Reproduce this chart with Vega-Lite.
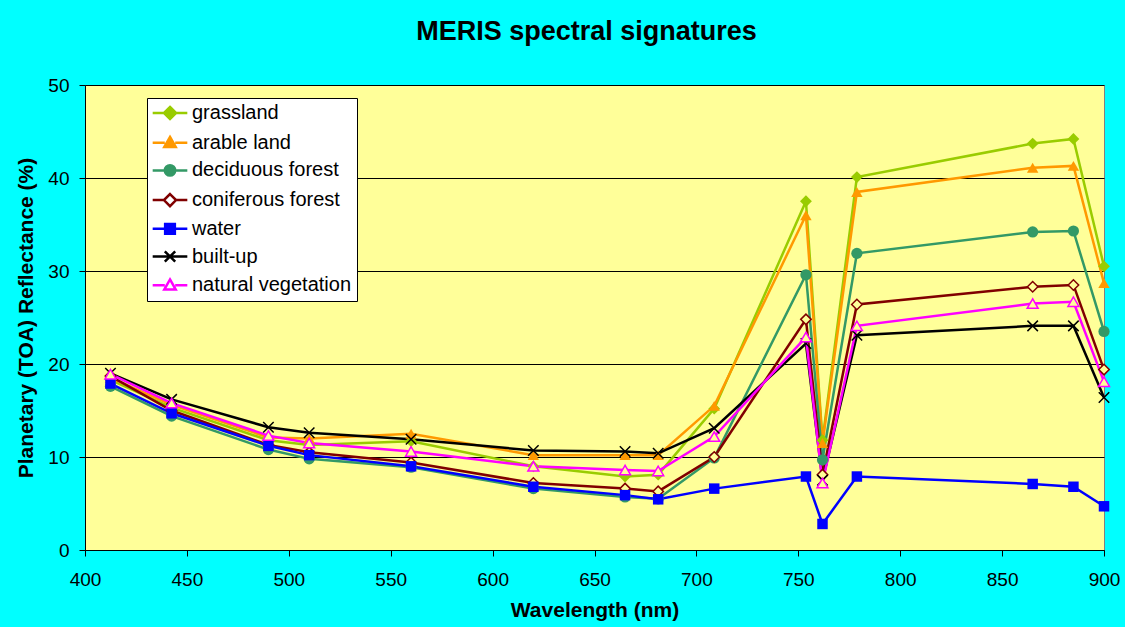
{
  "$schema": "https://vega.github.io/schema/vega-lite/v6.json",
  "width": 1019,
  "height": 465,
  "autosize": {"type": "none"},
  "padding": {"left": 85, "top": 85, "right": 21, "bottom": 77},
  "background": "#00FFFF",
  "title": {"text": "MERIS spectral signatures", "font": "Liberation Sans", "fontSize": 27, "fontWeight": "bold", "color": "#000000", "anchor": "middle", "frame": "group", "offset": 3, "baseline": "bottom", "dx": -8},
  "config": {
    "view": {"fill": "#FFFF99", "stroke": "#808080", "strokeWidth": 1},
    "axis": {
      "labelFont": "Liberation Sans", "labelFontSize": 19, "labelColor": "#000000",
      "titleFont": "Liberation Sans", "titleFontSize": 21, "titleFontWeight": "bold", "titleColor": "#000000",
      "domainColor": "#000000", "tickColor": "#000000", "tickSize": 6, "domainWidth": 1, "tickWidth": 1
    },
    "legend": {"orient": "none", "legendX": 62, "legendY": 13, "fillColor": "#FFFFFF", "strokeColor": "#000000", "padding": 5, "labelFont": "Liberation Sans", "labelFontSize": 20, "labelColor": "#000000", "labelLimit": 400, "labelOffset": 12, "symbolOffset": 8, "symbolSize": 300, "symbolStrokeWidth": 2.5, "symbolOpacity": 1, "rowPadding": 6.7}
  },
  "data": {"values": [
    {"s": "grassland", "w": 412.5, "r": 18.3}, {"s": "grassland", "w": 442.5, "r": 15.3}, {"s": "grassland", "w": 490, "r": 11.8}, {"s": "grassland", "w": 510, "r": 11.3}, {"s": "grassland", "w": 560, "r": 11.7}, {"s": "grassland", "w": 620, "r": 9.0}, {"s": "grassland", "w": 665, "r": 7.9}, {"s": "grassland", "w": 681.25, "r": 8.1}, {"s": "grassland", "w": 708.75, "r": 15.2}, {"s": "grassland", "w": 753.75, "r": 37.5}, {"s": "grassland", "w": 761.875, "r": 11.8}, {"s": "grassland", "w": 778.75, "r": 40.1}, {"s": "grassland", "w": 865, "r": 43.7}, {"s": "grassland", "w": 885, "r": 44.2}, {"s": "grassland", "w": 900, "r": 30.5},
    {"s": "arable land", "w": 412.5, "r": 18.5}, {"s": "arable land", "w": 442.5, "r": 15.6}, {"s": "arable land", "w": 490, "r": 12.1}, {"s": "arable land", "w": 510, "r": 12.0}, {"s": "arable land", "w": 560, "r": 12.5}, {"s": "arable land", "w": 620, "r": 10.2}, {"s": "arable land", "w": 665, "r": 10.2}, {"s": "arable land", "w": 681.25, "r": 10.2}, {"s": "arable land", "w": 708.75, "r": 15.5}, {"s": "arable land", "w": 753.75, "r": 36.0}, {"s": "arable land", "w": 761.875, "r": 11.5}, {"s": "arable land", "w": 778.75, "r": 38.5}, {"s": "arable land", "w": 865, "r": 41.1}, {"s": "arable land", "w": 885, "r": 41.3}, {"s": "arable land", "w": 900, "r": 28.7},
    {"s": "deciduous forest", "w": 412.5, "r": 17.6}, {"s": "deciduous forest", "w": 442.5, "r": 14.4}, {"s": "deciduous forest", "w": 490, "r": 10.8}, {"s": "deciduous forest", "w": 510, "r": 9.8}, {"s": "deciduous forest", "w": 560, "r": 8.9}, {"s": "deciduous forest", "w": 620, "r": 6.6}, {"s": "deciduous forest", "w": 665, "r": 5.7}, {"s": "deciduous forest", "w": 681.25, "r": 5.5}, {"s": "deciduous forest", "w": 708.75, "r": 9.9}, {"s": "deciduous forest", "w": 753.75, "r": 29.6}, {"s": "deciduous forest", "w": 761.875, "r": 9.7}, {"s": "deciduous forest", "w": 778.75, "r": 31.9}, {"s": "deciduous forest", "w": 865, "r": 34.2}, {"s": "deciduous forest", "w": 885, "r": 34.3}, {"s": "deciduous forest", "w": 900, "r": 23.5},
    {"s": "coniferous forest", "w": 412.5, "r": 18.7}, {"s": "coniferous forest", "w": 442.5, "r": 15.0}, {"s": "coniferous forest", "w": 490, "r": 11.3}, {"s": "coniferous forest", "w": 510, "r": 10.5}, {"s": "coniferous forest", "w": 560, "r": 9.4}, {"s": "coniferous forest", "w": 620, "r": 7.2}, {"s": "coniferous forest", "w": 665, "r": 6.6}, {"s": "coniferous forest", "w": 681.25, "r": 6.3}, {"s": "coniferous forest", "w": 708.75, "r": 10.0}, {"s": "coniferous forest", "w": 753.75, "r": 24.8}, {"s": "coniferous forest", "w": 761.875, "r": 8.1}, {"s": "coniferous forest", "w": 778.75, "r": 26.4}, {"s": "coniferous forest", "w": 865, "r": 28.3}, {"s": "coniferous forest", "w": 885, "r": 28.5}, {"s": "coniferous forest", "w": 900, "r": 19.4},
    {"s": "water", "w": 412.5, "r": 17.9}, {"s": "water", "w": 442.5, "r": 14.7}, {"s": "water", "w": 490, "r": 11.2}, {"s": "water", "w": 510, "r": 10.2}, {"s": "water", "w": 560, "r": 9.0}, {"s": "water", "w": 620, "r": 6.8}, {"s": "water", "w": 665, "r": 5.9}, {"s": "water", "w": 681.25, "r": 5.45}, {"s": "water", "w": 708.75, "r": 6.6}, {"s": "water", "w": 753.75, "r": 7.9}, {"s": "water", "w": 761.875, "r": 2.8}, {"s": "water", "w": 778.75, "r": 7.9}, {"s": "water", "w": 865, "r": 7.1}, {"s": "water", "w": 885, "r": 6.8}, {"s": "water", "w": 900, "r": 4.7},
    {"s": "built-up", "w": 412.5, "r": 19.0}, {"s": "built-up", "w": 442.5, "r": 16.2}, {"s": "built-up", "w": 490, "r": 13.2}, {"s": "built-up", "w": 510, "r": 12.6}, {"s": "built-up", "w": 560, "r": 11.9}, {"s": "built-up", "w": 620, "r": 10.7}, {"s": "built-up", "w": 665, "r": 10.6}, {"s": "built-up", "w": 681.25, "r": 10.4}, {"s": "built-up", "w": 708.75, "r": 13.1}, {"s": "built-up", "w": 753.75, "r": 22.2}, {"s": "built-up", "w": 761.875, "r": 7.5}, {"s": "built-up", "w": 778.75, "r": 23.1}, {"s": "built-up", "w": 865, "r": 24.1}, {"s": "built-up", "w": 885, "r": 24.1}, {"s": "built-up", "w": 900, "r": 16.4},
    {"s": "natural vegetation", "w": 412.5, "r": 18.9}, {"s": "natural vegetation", "w": 442.5, "r": 15.8}, {"s": "natural vegetation", "w": 490, "r": 12.3}, {"s": "natural vegetation", "w": 510, "r": 11.5}, {"s": "natural vegetation", "w": 560, "r": 10.6}, {"s": "natural vegetation", "w": 620, "r": 9.0}, {"s": "natural vegetation", "w": 665, "r": 8.6}, {"s": "natural vegetation", "w": 681.25, "r": 8.5}, {"s": "natural vegetation", "w": 708.75, "r": 12.2}, {"s": "natural vegetation", "w": 753.75, "r": 22.9}, {"s": "natural vegetation", "w": 761.875, "r": 7.2}, {"s": "natural vegetation", "w": 778.75, "r": 24.1}, {"s": "natural vegetation", "w": 865, "r": 26.5}, {"s": "natural vegetation", "w": 885, "r": 26.7}, {"s": "natural vegetation", "w": 900, "r": 18.1}
  ]},
  "encoding": {
    "x": {"field": "w", "type": "quantitative", "scale": {"domain": [400, 900], "nice": false, "zero": false},
      "axis": {"title": "Wavelength (nm)", "values": [400, 450, 500, 550, 600, 650, 700, 750, 800, 850, 900], "grid": false, "labelFlush": false, "labelPadding": 14, "titlePadding": 10, "labelOverlap": false}},
    "y": {"field": "r", "type": "quantitative", "scale": {"domain": [0, 50], "nice": false},
      "axis": {"title": "Planetary (TOA) Reflectance (%)", "values": [0, 10, 20, 30, 40, 50], "grid": true, "gridColor": "#000000", "gridWidth": 1, "gridOpacity": 1, "labelPadding": 10, "titlePadding": 11, "labelFlush": false}}
  },
  "layer": [
    {
      "mark": {"type": "point", "strokeWidth": 2.5, "opacity": 0},
      "encoding": {
        "shape": {"field": "s", "type": "nominal", "title": null,
          "scale": {"domain": ["grassland", "arable land", "deciduous forest", "coniferous forest", "water", "built-up", "natural vegetation"],
                    "range": [
                      "M-2,0H-0.7M0.7,0H2M0,-0.7L0.7,0L0,0.7L-0.7,0Z",
                      "M-2,0H-0.6M0.6,0H2M0,-0.66L0.66,0.5L-0.66,0.5Z",
                      "M-2,0H-0.6M0.6,0H2M-0.6,0A0.6,0.6,0,1,0,0.6,0A0.6,0.6,0,1,0,-0.6,0Z",
                      "M-2,0H-0.7M0.7,0H2M0,-0.7L0.7,0L0,0.7L-0.7,0Z",
                      "M-2,0H-0.56M0.56,0H2M-0.56,-0.56H0.56V0.56H-0.56Z",
                      "M-2,0H2M-0.6,-0.6L0.6,0.6M-0.6,0.6L0.6,-0.6",
                      "M-2,0H-0.6M0.6,0H2M0,-0.66L0.66,0.5L-0.66,0.5Z"
                    ]}},
        "fill": {"field": "s", "type": "nominal", "title": null,
          "scale": {"domain": ["grassland", "arable land", "deciduous forest", "coniferous forest", "water", "built-up", "natural vegetation"],
                    "range": ["#99CC00", "#FF9900", "#339966", "#FFFFFF", "#0000FF", "transparent", "#FFFFFF"]}},
        "stroke": {"field": "s", "type": "nominal", "title": null,
          "scale": {"domain": ["grassland", "arable land", "deciduous forest", "coniferous forest", "water", "built-up", "natural vegetation"],
                    "range": ["#99CC00", "#FF9900", "#339966", "#800000", "#0000FF", "#000000", "#FF00FF"]}}
      }
    },
    {
      "mark": {"type": "line", "strokeWidth": 2.5},
      "encoding": {
        "color": {"field": "s", "type": "nominal", "title": null,
          "scale": {"domain": ["grassland", "arable land", "deciduous forest", "coniferous forest", "water", "built-up", "natural vegetation"],
                    "range": ["#99CC00", "#FF9900", "#339966", "#800000", "#0000FF", "#000000", "#FF00FF"]}}
      }
    },
    {"transform": [{"filter": "datum.s == 'grassland'"}], "mark": {"type": "point", "shape": "diamond", "filled": true, "color": "#99CC00", "size": 140, "opacity": 1}},
    {"transform": [{"filter": "datum.s == 'arable land'"}], "mark": {"type": "point", "shape": "triangle-up", "filled": true, "color": "#FF9900", "size": 130, "opacity": 1}},
    {"transform": [{"filter": "datum.s == 'deciduous forest'"}], "mark": {"type": "point", "shape": "circle", "filled": true, "color": "#339966", "size": 125, "opacity": 1}},
    {"transform": [{"filter": "datum.s == 'coniferous forest'"}], "mark": {"type": "point", "shape": "diamond", "filled": true, "fill": "#FFFF99", "stroke": "#800000", "strokeWidth": 1.5, "size": 110, "opacity": 1}},
    {"transform": [{"filter": "datum.s == 'water'"}], "mark": {"type": "point", "shape": "square", "filled": true, "color": "#0000FF", "size": 110, "opacity": 1}},
    {"transform": [{"filter": "datum.s == 'built-up'"}], "mark": {"type": "point", "shape": "M-1,-1L1,1M-1,1L1,-1", "filled": false, "color": "#000000", "strokeWidth": 1.5, "size": 110, "opacity": 1}},
    {"transform": [{"filter": "datum.s == 'natural vegetation'"}], "mark": {"type": "point", "shape": "triangle-up", "filled": true, "fill": "#FFFF99", "stroke": "#FF00FF", "strokeWidth": 1.5, "size": 120, "opacity": 1}}
  ]
}
